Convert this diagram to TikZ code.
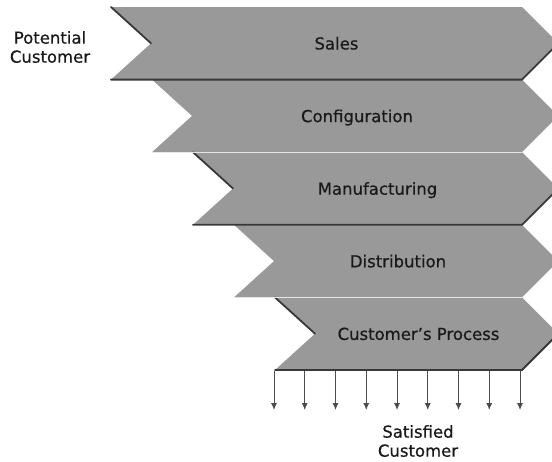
\documentclass[tikz,border=0pt]{standalone}
\usepackage{fontspec}
\setmainfont{DejaVu Sans}[FakeBold=0.5]
\usetikzlibrary{arrows.meta}
\definecolor{bandgray}{gray}{0.6}
\definecolor{edgedark}{gray}{0.22}
\definecolor{edgelight}{gray}{0.9}
\definecolor{inkgray}{gray}{0.1}
\begin{document}
\begin{tikzpicture}[x=1pt,y=-1pt,
  txt/.style={font=\fontsize{16.5}{19}\selectfont, text=inkgray, inner sep=0pt, align=center},
  band/.style={fill=bandgray, draw=none},
  edge dark/.style={draw=edgedark, line width=1.8pt, line cap=round},
  edge light/.style={draw=edgelight, line width=1.4pt},
  flow/.style={draw=black!70, line width=0.9pt, -{Latex[length=7pt,width=6pt]}}]
\useasboundingbox (0,0) rectangle (552,461);
\begin{scope}
  \clip (0,0) rectangle (552,461);
  % five stacked chevron bands, each shifted right on its notched left side
  \foreach \i in {0,...,4} {
    \pgfmathsetmacro\t{7+72.6*\i}
    \pgfmathsetmacro\b{\t+72.6}
    \pgfmathsetmacro\m{\t+36.3}
    \pgfmathsetmacro\l{111+41*\i}
    \pgfmathsetmacro\n{\l+40}
    \coordinate (b\i-tl) at (\l,\t);
    \coordinate (b\i-nt) at (\n,\m);
    \coordinate (b\i-bl) at (\l,\b);
    \coordinate (b\i-br) at (522,\b);
    \coordinate (b\i-tp) at (558.3,\m);
    \coordinate (b\i-tr) at (522,\t);
    \coordinate (b\i-c) at ({(\n+522)/2},{\m+6.2});
    \path[band] (b\i-tl) -- (b\i-nt) -- (b\i-bl) -- (b\i-br) -- (b\i-tp) -- (b\i-tr) -- cycle;
  }
  % bevel edges
  \foreach \i in {0,2,4} {
    \draw[edge dark] (b\i-tl) -- (b\i-nt);
    \draw[edge dark] (b\i-bl) -- (b\i-br) -- (b\i-tp);
  }
  \foreach \i in {1,3} {
    \draw[edge light] (b\i-bl) -- (b\i-br);
  }
\end{scope}

% band captions
\node[txt, anchor=base] (sales) at (b0-c) {Sales};
\node[txt, anchor=base] (config) at (b1-c) {Configuration};
\node[txt, anchor=base] (manuf) at (b2-c) {Manufacturing};
\node[txt, anchor=base] (distr) at (b3-c) {Distribution};
\node[txt, anchor=base] (custproc) at (b4-c) {Customer's Process};

% entry and exit labels
\node[txt] (potential) at (50,47) {Potential\\Customer};
\node[txt] (satisfied) at (418,441) {Satisfied\\Customer};

% output arrows below the last band
\foreach \k in {0,...,8} {
  \coordinate (s\k) at ({274+30.75*\k},371);
  \coordinate (e\k) at ({274+30.75*\k},410);
  \draw[flow] (s\k) -- (e\k);
}
\end{tikzpicture}
\end{document}
